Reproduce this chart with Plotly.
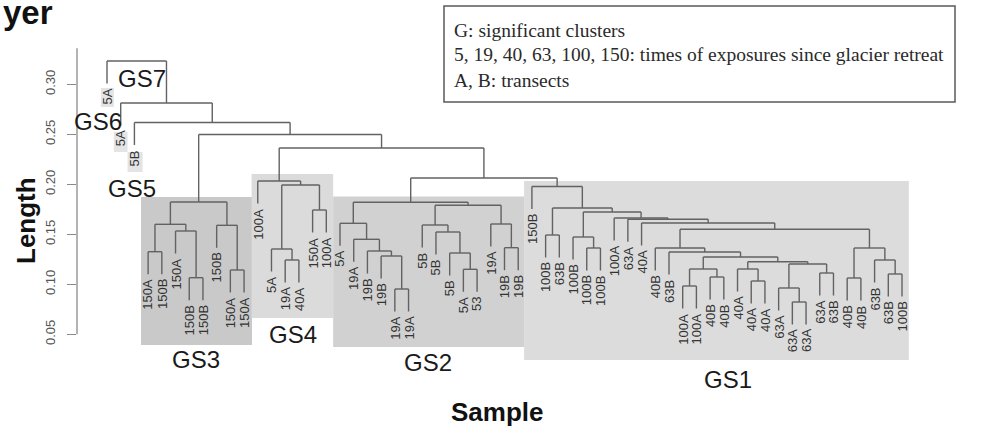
import plotly.graph_objects as go

# ---------------- data ----------------
leaf_labels = [
    "5A", "5A", "5B",
    "150A", "150B", "150A", "150B", "150B", "150B", "150A", "150A",
    "100A", "5A", "19A", "40A", "150A", "100A",
    "5A", "19A", "19B", "19B", "19A", "19A", "5B", "5B", "5B", "5A", "53", "19A", "19B", "19B",
    "150B", "100B", "63B", "100B", "100B", "100B", "100A", "63A", "40A", "40B", "63B",
    "100A", "100A", "40B", "40B", "40A", "40A", "40A", "63A", "63A", "63A", "63A", "63B",
    "40B", "40B", "63B", "63B", "100B",
]

# internal nodes: children are leaf positions (int, 1-based) or node ids (str)
node_ids = [
    "c_p1", "c_p2", "c_B", "c_A", "c_p3", "c_C", "c_root",
    "d_p1", "d_a", "d_p2", "d_b", "d_root",
    "b_p1", "b_H", "b_G", "b_F", "b_E", "b_p2", "b_K", "b_J", "b_I", "b_p3", "b_L", "b_D", "b_root",
    "g_p1", "g_p2", "g_n1", "g_p3", "g_p4", "g_V", "g_p5", "g_X", "g_p6", "g_BB", "g_p7", "g_AA",
    "g_W", "g_U", "g_T", "g_S", "g_p8", "g_p9", "g_Z", "g_Y", "g_R", "g_Q", "g_P", "g_O", "g_N",
    "g_M", "g_root",
    "N5", "N4", "N3", "N2", "N1", "root",
]
node_left = [
    4, 7, 6, "c_p1", 10, 9, "c_A",
    14, 13, 16, "d_a", 12,
    22, 21, 20, 19, 18, 27, 26, 25, 24, 30, 29, "b_I", "b_E",
    33, 36, 35, 43, 45, "g_p3", 48, 47, 51, 50, 53, "g_BB",
    "g_X", "g_V", 42, 41, 55, 58, 57, "g_p8", "g_S", 40, 39, 38, "g_n1",
    "g_p1", 32,
    "b_root", "d_root", "c_root", 3, 2, 1,
]
node_right = [
    5, 8, "c_p2", "c_B", 11, "c_p3", "c_C",
    15, "d_p1", 17, "d_p2", "d_b",
    23, "b_p1", "b_H", "b_G", "b_F", 28, "b_p2", "b_K", "b_J", 31, "b_p3", "b_L", "b_D",
    34, 37, "g_p2", 44, 46, "g_p4", 49, "g_p5", 52, "g_p6", 54, "g_p7",
    "g_AA", "g_W", "g_U", "g_T", 56, 59, "g_p9", "g_Z", "g_Y", "g_R", "g_Q", "g_P", "g_O",
    "g_N", "g_M",
    "g_root", "N5", "N4", "N3", "N2", "N1",
]
node_height = [
    0.1326, 0.1066, 0.1533, 0.1600, 0.1143, 0.1590, 0.1823,
    0.1243, 0.1353, 0.1743, 0.1993, 0.2033,
    0.0953, 0.1283, 0.1333, 0.1450, 0.1610, 0.1150, 0.1313, 0.1523, 0.1593, 0.1366, 0.1603, 0.1790, 0.1820,
    0.1493, 0.1363, 0.1473, 0.0983, 0.1073, 0.1153, 0.1033, 0.1153, 0.0823, 0.0963, 0.1113, 0.1203,
    0.1226, 0.1273, 0.1323, 0.1363, 0.1063, 0.1103, 0.1243, 0.1363, 0.1550, 0.1613, 0.1650, 0.1663, 0.1723,
    0.1763, 0.1978,
    0.2063, 0.2363, 0.2498, 0.2618, 0.2813, 0.3233,
]
hang = 0.0225

y_ticks = [0.05, 0.10, 0.15, 0.20, 0.25, 0.30]

cluster_names = ["GS7", "GS6", "GS5", "GS3", "GS4", "GS2", "GS1"]
cluster_first_leaf = [1, 2, 3, 4, 12, 18, 32]
cluster_last_leaf = [1, 2, 3, 11, 17, 31, 59]
cluster_low = [0.2773, 0.2323, 0.2123, 0.0393, 0.0663, 0.0373, 0.0243]
cluster_high = [0.2963, 0.2523, 0.2323, 0.1873, 0.2103, 0.1878, 0.2033]

legend_lines = [
    "G: significant clusters",
    "5, 19, 40, 63, 100, 150: times of exposures since glacier retreat",
    "A, B: transects",
]

# ---------------- layout constants ----------------
W, H = 1005, 436
ML, MR, MT, MB = 77, 0, 0, 0
PW, PH = W - ML - MR, H - MT - MB
leaf_step_px = 13.707
first_leaf_px = 107
y_at_020_px = 184.3
px_per_unit = 1000.0

x_lo = 1 - (first_leaf_px - ML) / leaf_step_px
x_hi = x_lo + PW / leaf_step_px
y_hi = 0.20 + (y_at_020_px - MT) / px_per_unit
y_lo = y_hi - PH / px_per_unit


def pxx(p):
    return (p - ML) / PW


def pxy(p):
    return 1 - (p - MT) / PH


# ---------------- build dendrogram geometry ----------------
nodes = {nid: (l, r, h) for nid, l, r, h in zip(node_ids, node_left, node_right, node_height)}
xpos = {}


def node_x(c):
    if isinstance(c, int):
        return float(c)
    if c in xpos:
        return xpos[c]
    l, r, _ = nodes[c]
    xpos[c] = (node_x(l) + node_x(r)) / 2
    return xpos[c]


seg_x, seg_y = [], []
leaf_bottom = {}
for nid in node_ids:
    l, r, h = nodes[nid]
    xl, xr = node_x(l), node_x(r)
    seg_x += [xl, xr, None]
    seg_y += [h, h, None]
    for c, xc in ((l, xl), (r, xr)):
        if isinstance(c, int):
            yb = h - hang
            leaf_bottom[c] = yb
        else:
            yb = nodes[c][2]
        seg_x += [xc, xc, None]
        seg_y += [h, yb, None]

fig = go.Figure()

shapes = []
rect_colors = ["#e4e4e4", "#e4e4e4", "#e4e4e4", "#c9c9c9", "#dbdbdb", "#d1d1d1", "#dcdcdc"]
rect_pad_l = [0.45, 0.5, 0.5, 0.52, 0.45, 0.5, 0.57]
rect_pad_r = [0.5, 0.5, 0.6, 0.58, 0.5, 0.43, 0.5]
for i in range(len(cluster_names)):
    shapes.append(dict(
        type="rect", xref="x", yref="y", layer="below",
        x0=cluster_first_leaf[i] - rect_pad_l[i], x1=cluster_last_leaf[i] + rect_pad_r[i],
        y0=cluster_low[i], y1=cluster_high[i],
        fillcolor=rect_colors[i], line=dict(width=0),
    ))

# y axis line (R style, limited extent)
shapes.append(dict(type="line", xref="paper", yref="y", x0=0, x1=0, y0=0.05, y1=0.336,
                   line=dict(color="#8a8a8a", width=1.3)))
# legend box
shapes.append(dict(type="rect", xref="paper", yref="paper",
                   x0=pxx(444), x1=pxx(955), y0=pxy(102), y1=pxy(6),
                   line=dict(color="#5a5a5a", width=1.5), fillcolor="rgba(0,0,0,0)"))

fig.add_trace(go.Scatter(x=seg_x, y=seg_y, mode="lines",
                         line=dict(color="#626262", width=1.4),
                         hoverinfo="skip", showlegend=False))

annotations = []
for i, lab in enumerate(leaf_labels, start=1):
    annotations.append(dict(
        x=i, y=leaf_bottom[i], xref="x", yref="y", text=lab, showarrow=False,
        textangle=-90, xanchor="center", yanchor="top", yshift=-3,
        font=dict(family="Liberation Sans, Arial, sans-serif", size=13, color="#333333"),
    ))

gs_label_px = [(142, 78), (98, 121), (132, 188), (196, 359), (293, 334), (428, 362), (728, 379)]
for name, (gx, gy) in zip(cluster_names, gs_label_px):
    annotations.append(dict(
        x=pxx(gx), y=pxy(gy), xref="paper", yref="paper", text=name, showarrow=False,
        xanchor="center", yanchor="middle",
        font=dict(family="Liberation Sans, Arial, sans-serif", size=24, color="#1a1a1a"),
    ))

for k, line in enumerate(legend_lines):
    annotations.append(dict(
        x=pxx(452), y=pxy(30 + 25 * k), xref="paper", yref="paper", text=line, showarrow=False,
        xanchor="left", yanchor="middle",
        font=dict(family="Liberation Serif, Times New Roman, serif", size=19.5, color="#2a2a2a"),
    ))

# axis titles and (cropped) title
annotations.append(dict(x=pxx(26), y=pxy(221), xref="paper", yref="paper", text="<b>Length</b>",
                        showarrow=False, textangle=-90, xanchor="center", yanchor="middle",
                        font=dict(family="Liberation Sans, Arial, sans-serif", size=26, color="#111111")))
annotations.append(dict(x=pxx(497), y=pxy(412), xref="paper", yref="paper", text="<b>Sample</b>",
                        showarrow=False, xanchor="center", yanchor="middle",
                        font=dict(family="Liberation Sans, Arial, sans-serif", size=26, color="#111111")))
annotations.append(dict(x=pxx(1), y=pxy(12), xref="paper", yref="paper", text="<b>yer</b>",
                        showarrow=False, xanchor="left", yanchor="middle",
                        font=dict(family="Liberation Sans, Arial, sans-serif", size=33, color="#111111")))

fig.update_layout(
    width=W, height=H,
    margin=dict(l=ML, r=MR, t=MT, b=MB, pad=0),
    paper_bgcolor="white", plot_bgcolor="white",
    showlegend=False,
    shapes=shapes,
    annotations=annotations,
    xaxis=dict(range=[x_lo, x_hi], visible=False, fixedrange=True, automargin=False),
    yaxis=dict(range=[y_lo, y_hi], showgrid=False, zeroline=False, showline=False,
               automargin=False,
               tickmode="array", tickvals=y_ticks, ticktext=[f"{v:.2f}" for v in y_ticks],
               ticks="outside", ticklen=9, tickwidth=1.3, tickcolor="#8a8a8a",
               tickangle=-90, ticklabelstandoff=7,
               tickfont=dict(family="Liberation Sans, Arial, sans-serif", size=13, color="#555555"),
               fixedrange=True),
)

fig.write_html("out.html", config={"displayModeBar": False},
               post_script="document.body.style.margin='0px';")
